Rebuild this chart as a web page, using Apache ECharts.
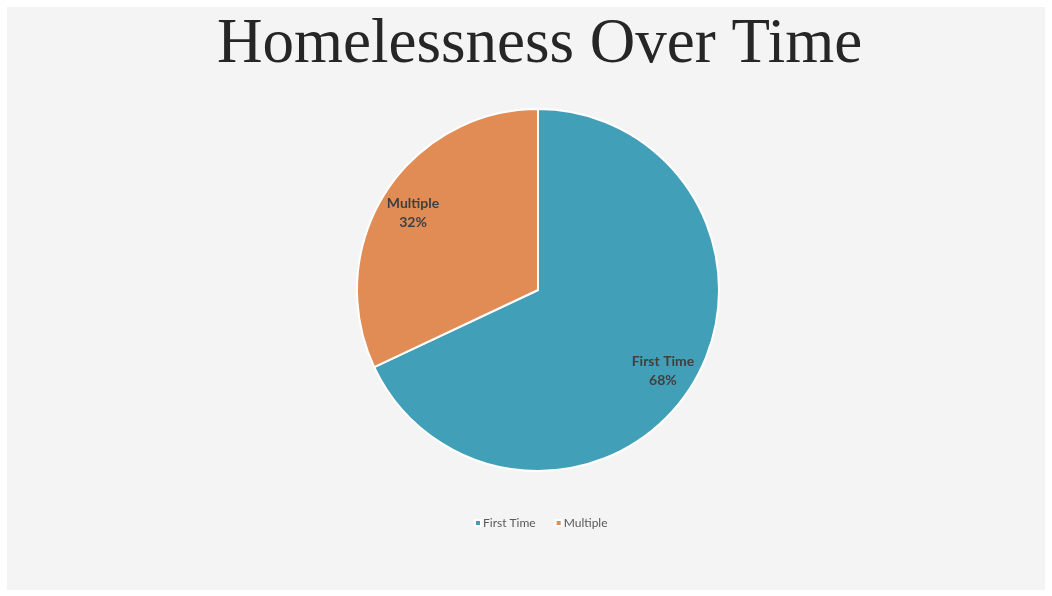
<!DOCTYPE html>
<html>
<head>
<meta charset="utf-8">
<script src="https://cdn.jsdelivr.net/npm/echarts@6/dist/echarts.min.js"></script>
<style>
html,body{margin:0;padding:0;background:#ffffff;}
#bg{position:absolute;left:7px;top:7px;width:1038px;height:583px;background:#f4f4f4;}
#chart{position:absolute;left:0;top:0;width:1052px;height:596px;}
</style>
</head>
<body>
<div id="bg"></div>
<div id="chart"></div>
<script>
const categories = ['First Time', 'Multiple'];
const values = [68, 32];
const colors = ['#429FB8', '#E28C55'];
const titleText = 'Homelessness Over Time';

const chart = echarts.init(document.getElementById('chart'), null, {renderer: 'canvas'});
const data = categories.map((c, i) => ({name: c, value: values[i], itemStyle: {color: colors[i]}}));
const labelData = categories.map((c, i) => ({name: c, value: values[i]}));

chart.setOption({
  backgroundColor: 'transparent',
  animation: false,
  title: {
    text: titleText,
    left: 212,
    top: 9,
    textStyle: {fontFamily: 'Liberation Serif', fontWeight: 'normal', fontSize: 63, color: '#262626'}
  },
  legend: {
    bottom: 62,
    left: 469,
    icon: 'rect',
    itemWidth: 6,
    itemHeight: 6,
    itemGap: 19,
    data: categories,
    textStyle: {fontFamily: 'Lato', fontSize: 12, color: '#595959', padding: [0, 0, 0, -3]}
  },
  series: [
    {
      type: 'pie',
      center: [538, 290],
      radius: [0, 181],
      startAngle: 90,
      clockwise: true,
      data: data,
      itemStyle: {borderColor: '#ffffff', borderWidth: 2},
      label: {show: false},
      labelLine: {show: false},
      emphasis: {disabled: true}
    },
    {
      type: 'pie',
      center: [538, 292],
      radius: [0, 290],
      startAngle: 90,
      clockwise: true,
      silent: true,
      data: labelData,
      itemStyle: {color: 'rgba(0,0,0,0)'},
      label: {
        show: true,
        position: 'inside',
        formatter: '{b}\n{d}%',
        fontFamily: 'Lato',
        fontWeight: 'bold',
        fontSize: 14,
        lineHeight: 19,
        color: '#404040'
      },
      labelLine: {show: false},
      emphasis: {disabled: true},
      legendHoverLink: false
    }
  ]
});
</script>
</body>
</html>
